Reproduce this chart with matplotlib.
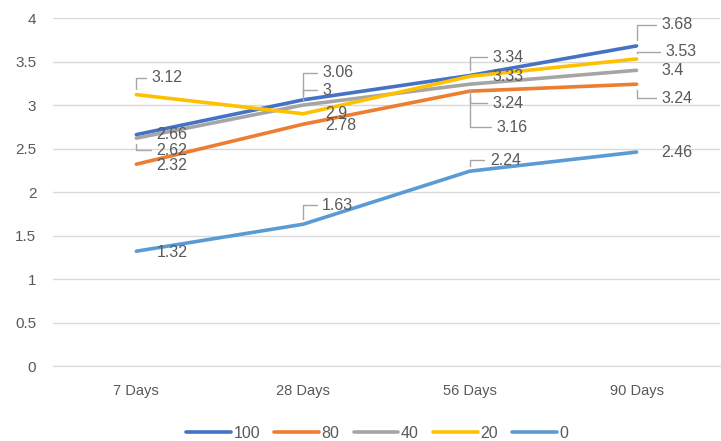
import matplotlib
matplotlib.use("Agg")
import matplotlib.pyplot as plt

plt.rcParams["font.family"] = ["Liberation Sans", "DejaVu Sans"]

categories = ["7 Days", "28 Days", "56 Days", "90 Days"]
series_names = ["100", "80", "40", "20", "0"]
s100 = [2.66, 3.06, 3.34, 3.68]
s80 = [2.32, 2.78, 3.16, 3.24]
s40 = [2.62, 3.00, 3.24, 3.40]
s20 = [3.12, 2.90, 3.33, 3.53]
s0 = [1.32, 1.63, 2.24, 2.46]
y_ticks = [0, 0.5, 1, 1.5, 2, 2.5, 3, 3.5, 4]

colors = ["#4472C4", "#ED7D31", "#A5A5A5", "#FFC000", "#5B9BD5"]
text_col = "#595959"

# label offsets in pixels (dx, dy) from each point, and whether a leader line is drawn
offsets = {
    "100": [((20, 0), False), ((19, 27), True), ((23, 18), True), ((25, 21), True)],
    "80": [((20, -1), False), ((22, -1), False), ((27, -36), True), ((25, -14), True)],
    "40": [((20, -12), True), ((19, 15), True), ((23, -19), True), ((25, 0), False)],
    "20": [((15, 17), True), ((22, 0), False), ((23, 0), False), ((29, 7), True)],
    "0": [((20, -1), False), ((19, 19), True), ((20, 11), True), ((25, 0), False)],
}

fig = plt.figure(figsize=(7.21, 4.41), dpi=100)
ax = fig.add_axes([0.0735, 0.170, 0.925, 0.789])

x = list(range(len(categories)))
all_series = [s100, s80, s40, s20, s0]
for name, vals, col in zip(series_names, all_series, colors):
    ax.plot(x, vals, color=col, lw=2.6, solid_capstyle="round", label=name, zorder=3)

for name, vals in zip(series_names, all_series):
    for i, v in enumerate(vals):
        (dx, dy), leader = offsets[name][i]
        label = f"{v:g}"
        kw = dict(xy=(i, v), xytext=(dx, dy), textcoords="offset pixels",
                  ha="left", va="center", fontsize=11.5, color=text_col, zorder=4)
        if leader:
            kw["arrowprops"] = dict(arrowstyle="-", color="#A6A6A6", lw=1,
                                    shrinkA=2, shrinkB=4, relpos=(0, 0.5),
                                    connectionstyle="angle,angleA=0,angleB=90,rad=0")
        ax.annotate(label, **kw)

ax.set_xlim(-0.5, len(categories) - 0.5)
ax.set_ylim(0, 4)
ax.set_yticks(y_ticks)
ax.set_yticklabels([f"{t:g}" for t in y_ticks])
ax.set_xticks(x)
ax.set_xticklabels(categories, fontsize=10.5)
ax.grid(axis="y", color="#D9D9D9", lw=1)
ax.set_axisbelow(True)
for sp in ["top", "right", "left"]:
    ax.spines[sp].set_visible(False)
ax.spines["bottom"].set_color("#D9D9D9")
ax.tick_params(axis="both", length=0, colors=text_col)
ax.tick_params(axis="y", pad=12, labelsize=11)
ax.tick_params(axis="x", pad=13)

ax.legend(loc="lower center", bbox_to_anchor=(0.486, -0.257), ncol=5, frameon=False,
          fontsize=11.5, labelcolor=text_col, handlelength=2.8, handletextpad=0.15,
          columnspacing=0.9)

fig.savefig("out.png", dpi=100)
